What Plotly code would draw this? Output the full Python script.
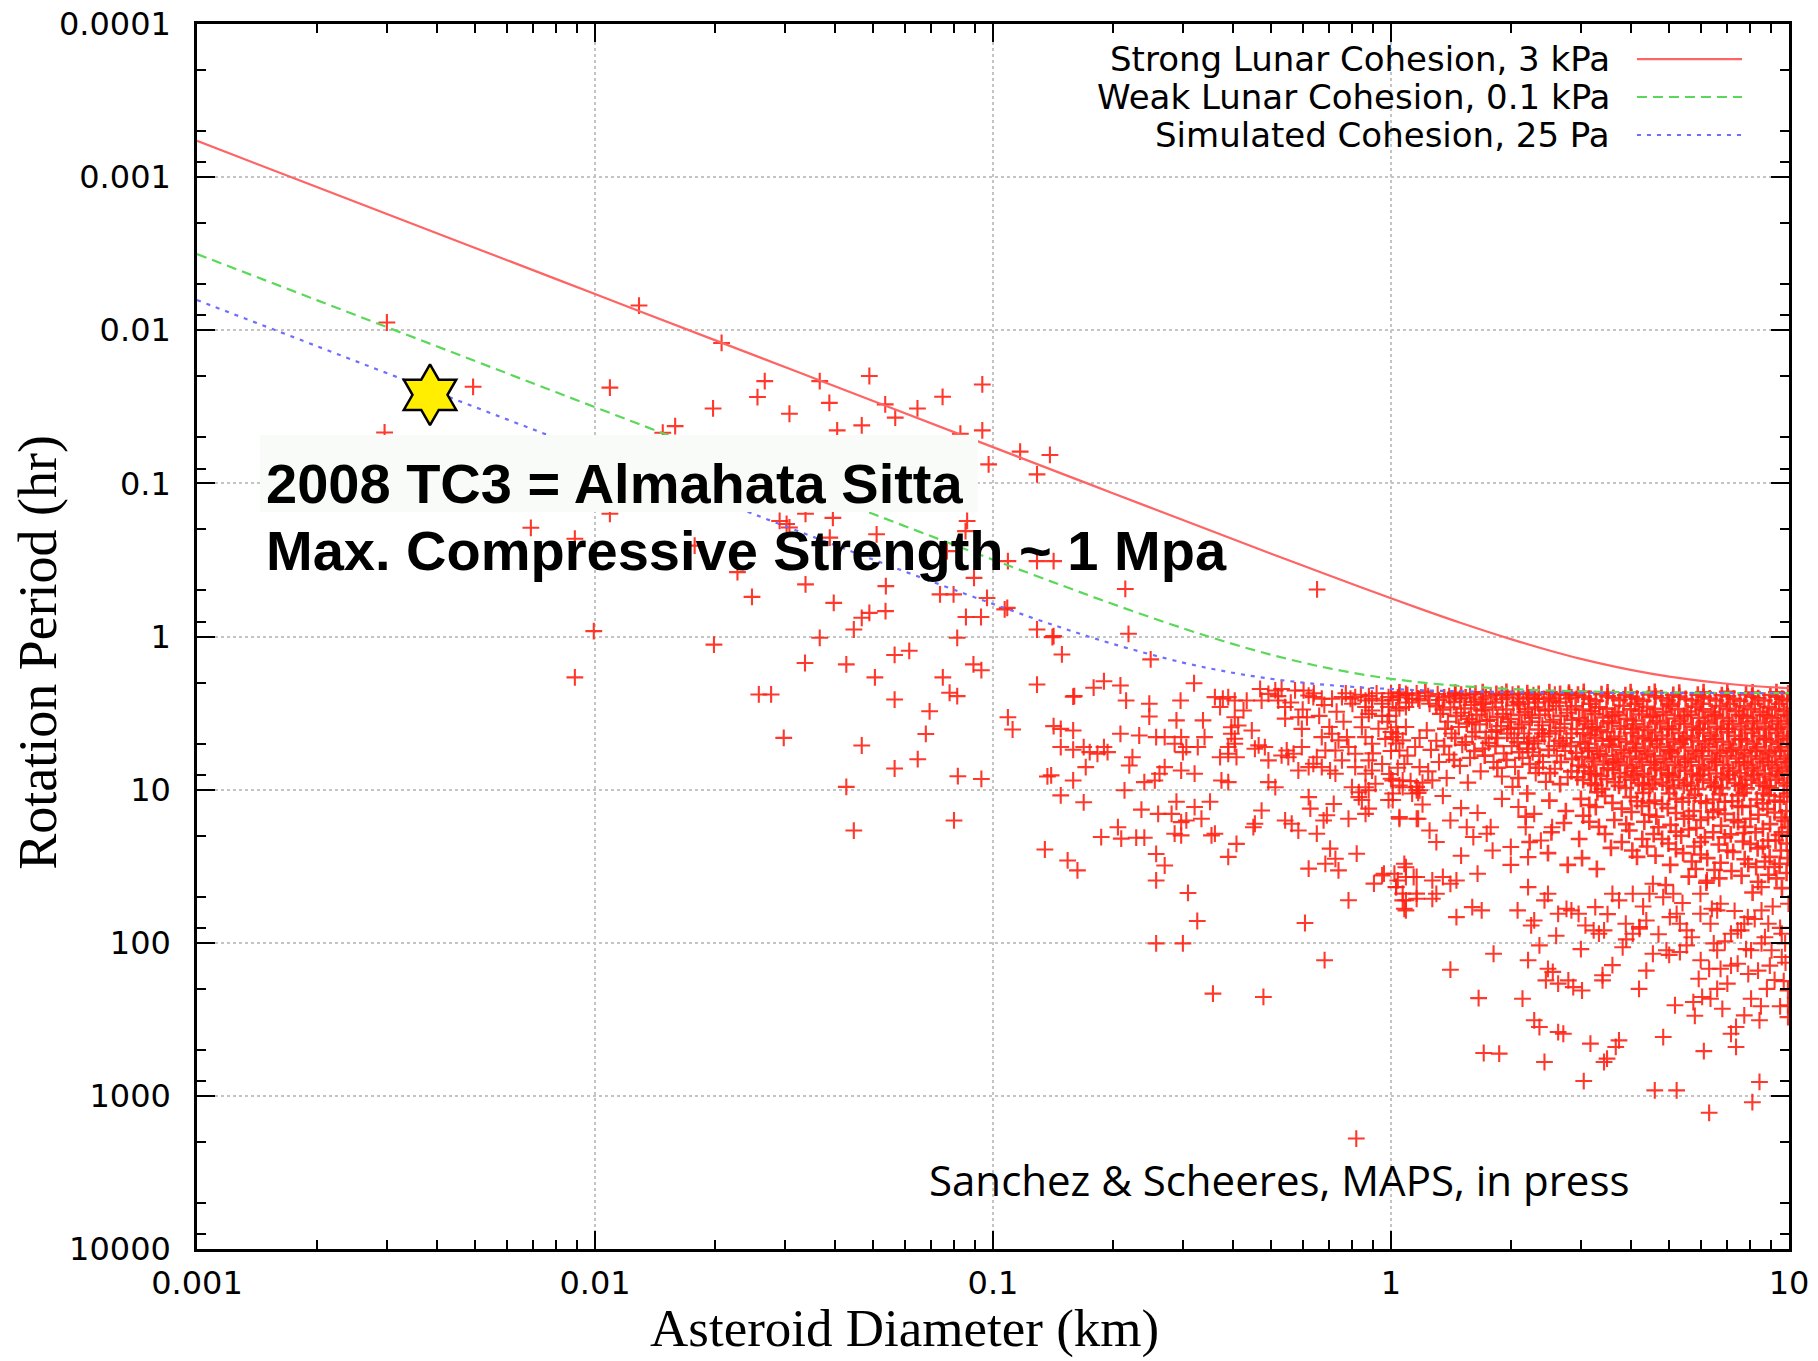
import plotly.graph_objects as go

# ---------------- model spin-limit curves (rotation period vs diameter) ----------------
curve_diam_km = [0.001, 0.002, 0.005, 0.01, 0.02, 0.05, 0.1, 0.15, 0.2, 0.3, 0.4, 0.5,
                 0.6, 0.7, 0.85, 1.0, 1.2, 1.5, 2.0, 2.5, 3.0, 4.0, 5.0, 7.0, 10.0]
strong_lunar_hr = [0.00058, 0.00116, 0.0029, 0.0058, 0.0116, 0.029, 0.058, 0.087, 0.1159,
                   0.1736, 0.2309, 0.288, 0.3443, 0.400, 0.4826, 0.563, 0.6675, 0.816,
                   1.040, 1.234, 1.399, 1.651, 1.826, 2.034, 2.178]
weak_lunar_hr = [0.00318, 0.00636, 0.0159, 0.0318, 0.0635, 0.1585, 0.315, 0.4672, 0.614,
                 0.884, 1.118, 1.316, 1.480, 1.615, 1.773, 1.889, 2.000, 2.108, 2.204,
                 2.253, 2.282, 2.311, 2.325, 2.337, 2.343]
simulated_hr = [0.00635, 0.0127, 0.0318, 0.0635, 0.1269, 0.3148, 0.613, 0.8831, 1.118,
                1.480, 1.725, 1.889, 2.000, 2.078, 2.155, 2.204, 2.246, 2.281, 2.311,
                2.324, 2.332, 2.340, 2.343, 2.346, 2.348]

# ---------------- observed asteroids: (diameter km, rotation period hr) ----------------
small_fast = [
    (0.0030, 0.0089), (0.0129, 0.0069), (0.0208, 0.0121), (0.00494, 0.0234), (0.0109, 0.0237),
    (0.0267, 0.0215), (0.0256, 0.0273), (0.0198, 0.0324), (0.0308, 0.0351), (0.0159, 0.0423),
    (0.0148, 0.0467), (0.00296, 0.0465), (0.0367, 0.0215), (0.0489, 0.0199), (0.0388, 0.0298),
    (0.0536, 0.0305), (0.0568, 0.0372), (0.0646, 0.0324), (0.0747, 0.0272), (0.094, 0.0226),
    (0.0406, 0.0451), (0.0468, 0.0418), (0.094, 0.0451), (0.0828, 0.0474), (0.117, 0.0620),
    (0.139, 0.0652), (0.0975, 0.0752), (0.129, 0.0874),
    (0.0109, 0.158), (0.0291, 0.176), (0.0303, 0.184), (0.0338, 0.158), (0.0396, 0.168),
    (0.051, 0.215), (0.0389, 0.226), (0.0861, 0.176), (0.0853, 0.205), (0.0766, 0.277),
    (0.0896, 0.414), (0.0736, 0.531), (0.0796, 0.531), (0.0966, 0.56), (0.1086, 0.65),
    (0.129, 0.322), (0.142, 0.322), (0.109, 0.322), (0.129, 0.90), (0.142, 0.995),
    (0.149, 1.31), (0.160, 2.45), (0.179, 2.16), (0.190, 1.96), (0.142, 3.85),
    (0.0538, 0.469), (0.0338, 0.457), (0.0248, 0.551), (0.0069, 0.195), (0.0089, 0.230),
    (0.0228, 0.380), (0.0178, 0.255), (0.0308, 0.194),
    (0.00993, 0.922), (0.0089, 1.85), (0.0199, 1.13), (0.0367, 1.02), (0.0398, 0.603),
    (0.0337, 1.49), (0.0428, 1.52), (0.0447, 0.90), (0.0468, 0.755), (0.0489, 0.701),
    (0.0537, 0.683), (0.0566, 1.32), (0.0616, 1.24), (0.0505, 1.85), (0.0258, 2.39),
    (0.0277, 2.39), (0.0298, 4.59), (0.0468, 5.15), (0.0566, 2.58), (0.0693, 3.08),
    (0.0678, 4.33), (0.0647, 6.33), (0.0566, 7.28), (0.0428, 9.6), (0.0447, 18.5),
    (0.0798, 15.9), (0.0748, 1.85), (0.0778, 2.33), (0.0813, 2.45), (0.0813, 1.02),
    (0.0855, 0.746), (0.0933, 0.746), (0.0893, 1.52), (0.0935, 1.66), (0.0816, 8.17),
    (0.0935, 8.52), (0.107, 0.665), (0.129, 2.06), (0.109, 3.37), (0.112, 4.05),
    (0.135, 24.6), (0.137, 8.2),
]

transition = [
    (0.141, 1.01), (0.219, 0.96), (0.249, 1.41), (0.215, 0.489), (0.652, 0.493),
    (0.159, 2.47), (0.209, 2.09), (0.216, 2.62), (0.320, 2.02), (0.247, 2.75),
    (0.296, 2.62), (0.247, 3.33), (0.148, 4.01), (0.159, 4.11), (0.148, 5.27),
    (0.159, 5.49), (0.169, 5.27), (0.175, 5.69), (0.183, 5.83), (0.194, 5.69),
    (0.190, 5.27), (0.140, 8.07), (0.159, 8.71), (0.171, 7.13), (0.148, 10.9),
    (0.169, 12.1), (0.209, 4.32), (0.224, 6.14), (0.220, 6.95), (0.214, 10.1),
    (0.154, 29.0), (0.163, 33.7), (0.187, 20.4), (0.206, 17.6), (0.210, 20.9),
    (0.229, 20.6), (0.240, 20.6), (0.236, 13.5), (0.260, 14.4), (0.233, 4.43),
    (0.257, 4.54), (0.270, 4.54), (0.286, 5.02), (0.297, 4.54), (0.306, 5.27),
    (0.300, 5.69), (0.337, 3.53), (0.340, 4.54), (0.327, 5.27), (0.289, 3.53),
    (0.240, 8.93), (0.255, 8.71), (0.262, 7.87), (0.270, 7.13), (0.297, 7.50),
    (0.321, 7.87), (0.289, 12.0), (0.281, 14.4), (0.297, 16.3), (0.306, 15.9),
    (0.286, 19.4), (0.297, 19.9), (0.321, 13.0), (0.334, 15.5), (0.351, 12.0),
    (0.354, 19.9), (0.361, 19.4), (0.409, 22.6), (0.390, 27.5), (0.257, 26.3),
    (0.270, 31.3), (0.257, 39.2), (0.309, 47.3), (0.326, 72.1), (0.257, 101),
    (0.300, 101), (0.357, 215), (0.478, 226), (0.372, 6.14), (0.390, 5.83),
    (0.409, 6.14), (0.390, 5.27), (0.405, 4.65), (0.375, 8.71), (0.390, 8.93),
    (0.361, 2.49), (0.378, 2.55), (0.390, 2.49), (0.405, 2.62), (0.426, 3.04),
    (0.434, 2.62), (0.372, 2.89), (0.405, 3.37), (0.397, 3.91), (0.413, 3.81),
    (0.397, 4.32), (0.405, 5.02), (0.447, 4.11), (0.465, 5.14), (0.482, 5.27),
    (0.492, 6.44), (0.455, 5.41), (0.469, 2.20), (0.473, 2.62), (0.492, 2.37),
    (0.512, 2.25), (0.531, 2.20), (0.521, 2.62), (0.542, 2.89), (0.542, 3.44),
    (0.585, 3.37), (0.615, 3.37), (0.597, 4.01),
    (0.574, 2.25), (0.603, 2.25), (0.621, 2.43), (0.638, 2.49), (0.670, 2.55),
    (0.711, 2.55), (0.753, 2.49), (0.791, 2.55), (0.813, 2.49), (0.863, 2.62),
    (0.896, 2.55), (0.950, 2.62), (0.986, 2.49), (1.05, 2.43), (1.09, 2.37),
    (1.13, 2.55), (1.18, 2.62),
    (0.863, 2.89), (0.879, 3.20), (0.845, 3.37), (0.896, 3.04), (0.950, 2.75),
    (0.986, 2.89), (1.03, 3.04), (1.09, 2.89),
    (0.845, 3.91), (0.863, 4.54), (0.896, 5.02), (0.968, 4.66), (1.01, 4.54),
    (1.04, 4.32), (1.07, 4.77), (1.03, 3.91), (1.05, 5.55), (1.15, 5.27), (1.18, 7.13),
    (0.670, 4.54), (0.711, 4.32), (0.738, 4.77), (0.775, 4.54), (0.782, 5.27),
    (0.813, 5.83), (0.725, 5.55), (0.684, 5.55), (0.651, 6.14), (0.638, 6.78),
    (0.670, 7.13), (0.703, 7.50), (0.725, 7.87), (0.753, 6.44), (0.813, 7.13),
    (0.863, 7.87), (0.879, 6.44), (0.896, 7.50),
    (0.585, 7.50), (0.621, 7.13), (0.597, 5.27), (0.569, 5.83), (0.547, 5.55),
    (0.552, 6.14), (0.531, 5.98), (0.492, 8.93), (0.512, 9.64),
    (0.798, 9.64), (0.830, 10.4), (0.830, 11.2), (0.863, 9.64), (0.879, 10.1),
    (0.845, 11.7), (0.914, 9.16), (1.01, 8.71), (1.05, 9.40), (0.986, 11.7),
    (1.01, 10.6), (1.07, 9.64), (1.18, 10.1),
    (0.621, 11.2), (0.627, 13.3), (0.690, 14.7), (0.677, 15.9), (0.718, 12.4),
    (0.651, 19.4), (0.585, 18.5), (0.542, 15.9), (0.563, 16.7), (0.782, 15.5),
    (0.879, 13.3), (0.863, 14.4), (0.455, 16.7), (0.473, 13.7), (0.451, 17.6),
    (0.703, 24.3), (0.684, 30.5), (0.725, 28.3), (0.738, 33.7), (0.621, 32.8),
    (0.820, 26.2), (0.782, 52.8), (0.608, 74.3), (0.681, 130),
    (0.906, 41.1), (0.950, 36.3), (1.02, 35.4), (1.04, 39.2), (1.08, 30.5),
    (1.09, 37.2), (1.14, 37.2), (1.03, 43.2), (1.07, 47.8), (1.09, 52.8),
    (1.08, 60.0), (1.16, 47.8), (1.05, 15.5), (1.16, 15.5), (1.16, 10.1),
    (0.818, 1900),
    (0.52, 2.45), (0.56, 2.7), (0.60, 3.0), (0.64, 2.35), (0.68, 2.8), (0.73, 3.1),
    (0.77, 2.35), (0.80, 2.75), (0.84, 2.4), (0.88, 2.45), (0.92, 2.35), (0.95, 3.3),
    (0.98, 3.6), (0.93, 4.0), (0.76, 3.6), (0.70, 3.9), (0.66, 3.3), (0.90, 5.8),
    (0.95, 6.8), (1.0, 8.5),
]

barrier_row = [
    (1.05, 2.32), (1.22, 2.30), (1.45, 2.33), (1.70, 2.31), (1.95, 2.30), (2.20, 2.34),
    (2.50, 2.31), (2.80, 2.33), (3.05, 2.30), (3.50, 2.32), (4.00, 2.31), (4.60, 2.30),
    (5.30, 2.33), (6.10, 2.31), (7.00, 2.30), (8.10, 2.32), (9.30, 2.31), (9.95, 2.35),
]

left_core = [
    (1.0, 2.35), (1.01, 2.6), (0.99, 3.3), (1.0, 4.2),
    (1.04, 2.5), (1.05, 2.95), (1.03, 5.0), (1.04, 7.2),
    (1.1, 2.42), (1.11, 2.7), (1.09, 3.9), (1.1, 6.0), (1.12, 8.8),
    (1.17, 2.55), (1.16, 2.35), (1.18, 4.6), (1.17, 10.5),
    (1.24, 2.45), (1.25, 2.75), (1.23, 4.1), (1.26, 5.5), (1.24, 7.6),
    (1.32, 2.6), (1.31, 2.38), (1.33, 3.2), (1.3, 4.8), (1.32, 6.6),
    (1.4, 2.45), (1.41, 2.9), (1.39, 3.6), (1.42, 4.3), (1.4, 5.9), (1.38, 8.4),
    (1.49, 2.55), (1.5, 3.15), (1.48, 3.9), (1.51, 5.1), (1.49, 7.0),
    (1.58, 2.4), (1.59, 2.8), (1.57, 3.45), (1.6, 4.5), (1.58, 6.2), (1.56, 9.0),
    (1.68, 2.58), (1.69, 3.05), (1.67, 3.75), (1.7, 5.4), (1.68, 7.6),
    (1.78, 2.43), (1.8, 2.9), (1.77, 3.5), (1.79, 4.2), (1.76, 4.95), (1.81, 6.6),
    (1.9, 2.57), (1.91, 3.2), (1.89, 3.85), (1.92, 5.8), (1.9, 8.2),
    (2.02, 2.4), (2.03, 2.82), (2.0, 3.45), (2.04, 4.6), (2.01, 5.2), (2.05, 7.1), (2.02, 9.6),
    (2.15, 2.55), (2.17, 3.12), (2.13, 3.75), (2.16, 4.3), (2.14, 6.2),
    (2.28, 2.42), (2.3, 2.9), (2.26, 3.4), (2.29, 5.0), (2.27, 5.7), (2.31, 7.8),
    (2.42, 2.56), (2.44, 3.05), (2.4, 3.8), (2.43, 4.5), (2.41, 6.6), (2.45, 8.9),
    (2.58, 2.4), (2.6, 2.85), (2.56, 3.5), (2.59, 4.15), (2.57, 5.2), (2.61, 6.0), (2.58, 7.3),
    (2.75, 2.55), (2.77, 3.15), (2.73, 3.72), (2.76, 4.6), (2.74, 5.6), (2.78, 8.3),
    (1.05, 15.1), (1.17, 15.5), (1.41, 15.9), (1.55, 17.6), (1.61, 20.4), (1.74, 19.4),
    (1.78, 17.6), (0.96, 35.4), (1.09, 32.1), (1.16, 37.2), (1.27, 39.2), (1.35, 37.2),
    (1.46, 39.2), (1.65, 35.4), (0.99, 7.9), (1.07, 8.7), (1.16, 9.6), (1.27, 8.7),
    (1.01, 11.7), (1.13, 10.6), (2.09, 13.0), (2.18, 17.6), (2.29, 14.4), (2.38, 21.5),
    (2.0, 23.7), (2.21, 27.6), (2.54, 17.6), (1.0, 5.6), (1.08, 6.8), (1.2, 9.0),
    (1.2, 12.5), (1.35, 11.0), (1.5, 13.2), (1.9, 11.5), (1.65, 14.2), (1.3, 22.0),
    (1.5, 27.0), (1.8, 25.0), (2.0, 31.0), (1.25, 18.5),
]

left_fill = [
    (1.36, 2.5), (1.35, 3.0), (1.37, 4.0), (1.36, 5.2),
    (1.45, 2.38), (1.44, 2.68), (1.46, 3.3), (1.45, 4.6), (1.44, 6.4),
    (1.54, 2.5), (1.53, 2.95), (1.55, 3.7), (1.54, 4.9),
    (1.63, 2.36), (1.62, 2.68), (1.64, 3.25), (1.63, 4.2), (1.62, 5.6),
    (1.73, 2.5), (1.72, 3.0), (1.74, 3.55), (1.73, 4.6), (1.72, 6.0),
    (1.84, 2.37), (1.83, 2.7), (1.85, 3.35), (1.84, 4.1), (1.83, 5.2), (1.85, 7.2),
    (1.96, 2.5), (1.95, 3.0), (1.97, 3.62), (1.96, 4.3), (1.95, 6.4),
    (2.09, 2.37), (2.08, 2.68), (2.1, 3.25), (2.09, 3.95), (2.08, 4.9), (2.1, 5.7), (2.09, 8.4),
    (2.22, 2.5), (2.21, 2.98), (2.23, 3.6), (2.22, 4.6), (2.21, 5.4), (2.23, 6.8),
    (2.35, 2.37), (2.34, 2.7), (2.36, 3.25), (2.35, 4.05), (2.34, 4.8), (2.36, 6.0), (2.35, 7.2),
    (2.5, 2.5), (2.49, 3.0), (2.51, 3.62), (2.5, 4.3), (2.49, 5.5), (2.51, 7.8),
    (2.66, 2.37), (2.65, 2.7), (2.67, 3.3), (2.66, 3.95), (2.65, 4.8), (2.67, 6.6), (2.66, 9.2),
    (2.84, 2.5), (2.83, 3.0), (2.85, 3.5), (2.84, 4.3), (2.83, 5.2), (2.85, 6.3), (2.84, 7.6),
    (1.3, 2.85), (1.5, 2.4), (1.7, 2.75), (1.9, 2.4), (2.1, 2.75), (2.3, 2.55), (2.55, 2.65),
    (2.8, 2.4), (1.6, 3.6), (2.0, 4.0), (2.4, 4.3), (2.7, 5.0), (2.2, 5.0), (1.85, 4.6),
]

dense_core = [
    (2.95, 2.40), (2.91, 2.86), (2.97, 3.42), (2.93, 4.02), (2.99, 4.9), (2.92, 5.75), (2.96, 6.95), (2.94, 8.3),
    (3.15, 2.56), (3.19, 3.08), (3.12, 3.72), (3.17, 4.42), (3.13, 5.35), (3.2, 6.25), (3.14, 7.6), (3.18, 9.1),
    (3.38, 2.38), (3.34, 2.9), (3.41, 3.38), (3.36, 4.1), (3.4, 4.8), (3.35, 5.85), (3.42, 6.85), (3.37, 8.15), (3.39, 9.9),
    (3.62, 2.52), (3.66, 3.12), (3.59, 3.68), (3.64, 4.5), (3.6, 5.25), (3.67, 6.35), (3.61, 7.45), (3.65, 8.95),
    (3.88, 2.42), (3.84, 2.83), (3.91, 3.45), (3.86, 4.0), (3.9, 4.88), (3.85, 5.78), (3.92, 6.92), (3.87, 8.25), (3.89, 9.75),
    (4.15, 2.55), (4.2, 3.06), (4.12, 3.74), (4.18, 4.46), (4.13, 5.32), (4.21, 6.28), (4.14, 7.55), (4.19, 9.05),
    (4.45, 2.39), (4.4, 2.88), (4.48, 3.36), (4.42, 4.07), (4.47, 4.83), (4.41, 5.82), (4.49, 6.88), (4.43, 8.2), (4.46, 9.85),
    (4.78, 2.53), (4.83, 3.11), (4.74, 3.7), (4.8, 4.43), (4.75, 5.28), (4.84, 6.32), (4.76, 7.48), (4.81, 8.98),
    (5.12, 2.41), (5.07, 2.84), (5.16, 3.43), (5.09, 4.04), (5.15, 4.86), (5.08, 5.79), (5.17, 6.9), (5.1, 8.22), (5.14, 9.8),
    (5.5, 2.56), (5.56, 3.09), (5.46, 3.71), (5.53, 4.47), (5.47, 5.31), (5.57, 6.27), (5.48, 7.52), (5.54, 9.02),
    (5.9, 2.4), (5.84, 2.87), (5.94, 3.39), (5.86, 4.06), (5.93, 4.84), (5.85, 5.81), (5.95, 6.94), (5.88, 8.18), (5.92, 9.9),
    (6.32, 2.54), (6.39, 3.1), (6.27, 3.69), (6.35, 4.44), (6.28, 5.29), (6.4, 6.33), (6.29, 7.46), (6.36, 9.0),
    (6.78, 2.42), (6.71, 2.85), (6.83, 3.41), (6.74, 4.03), (6.82, 4.87), (6.72, 5.77), (6.84, 6.91), (6.76, 8.24), (6.8, 9.78),
    (7.27, 2.55), (7.35, 3.07), (7.21, 3.73), (7.31, 4.45), (7.22, 5.33), (7.36, 6.26), (7.24, 7.54), (7.32, 9.06),
    (7.8, 2.39), (7.72, 2.86), (7.86, 3.4), (7.75, 4.05), (7.84, 4.85), (7.73, 5.8), (7.87, 6.89), (7.77, 8.21), (7.82, 9.82),
    (8.37, 2.53), (8.46, 3.1), (8.3, 3.7), (8.42, 4.46), (8.31, 5.3), (8.47, 6.3), (8.33, 7.5), (8.43, 9.0),
    (8.98, 2.41), (8.89, 2.88), (9.05, 3.42), (8.92, 4.04), (9.03, 4.86), (8.9, 5.8), (9.06, 6.92), (8.94, 8.2), (9.0, 9.8),
    (9.62, 2.55), (9.72, 3.08), (9.55, 3.71), (9.68, 4.45), (9.56, 5.3), (9.74, 6.29), (9.58, 7.52), (9.7, 9.03),
]

dense_fill = [
    (3.05, 2.47), (3.03, 3.0), (3.07, 3.55), (3.04, 4.28), (3.08, 5.02), (3.02, 6.1), (3.06, 7.15), (3.04, 8.65),
    (3.27, 2.63), (3.25, 3.22), (3.29, 3.9), (3.26, 4.62), (3.3, 5.58), (3.24, 6.55), (3.28, 7.9), (3.26, 9.35),
    (3.5, 2.46), (3.48, 2.96), (3.52, 3.58), (3.49, 4.22), (3.53, 5.08), (3.47, 6.02), (3.51, 7.25), (3.49, 8.55),
    (3.75, 2.61), (3.73, 3.26), (3.77, 3.86), (3.74, 4.68), (3.78, 5.52), (3.72, 6.64), (3.76, 7.8), (3.74, 9.45),
    (4.02, 2.48), (4.0, 2.99), (4.05, 3.54), (4.01, 4.27), (4.06, 5.04), (3.99, 6.08), (4.04, 7.18), (4.01, 8.62),
    (4.3, 2.63), (4.28, 3.23), (4.33, 3.89), (4.29, 4.63), (4.34, 5.57), (4.27, 6.57), (4.32, 7.88), (4.29, 9.38),
    (4.62, 2.46), (4.6, 2.97), (4.65, 3.57), (4.61, 4.24), (4.66, 5.06), (4.59, 6.04), (4.64, 7.22), (4.61, 8.58),
    (4.95, 2.62), (4.92, 3.25), (4.98, 3.87), (4.94, 4.66), (4.99, 5.54), (4.91, 6.62), (4.97, 7.83), (4.93, 9.42),
    (5.3, 2.47), (5.27, 2.98), (5.33, 3.56), (5.29, 4.26), (5.34, 5.03), (5.26, 6.07), (5.32, 7.17), (5.28, 8.63),
    (5.7, 2.62), (5.67, 3.24), (5.73, 3.88), (5.69, 4.64), (5.74, 5.56), (5.66, 6.58), (5.72, 7.86), (5.68, 9.4),
    (6.1, 2.47), (6.07, 2.99), (6.14, 3.55), (6.09, 4.25), (6.15, 5.05), (6.06, 6.05), (6.12, 7.2), (6.08, 8.6),
    (6.55, 2.62), (6.51, 3.23), (6.59, 3.89), (6.54, 4.65), (6.6, 5.55), (6.5, 6.6), (6.57, 7.85), (6.53, 9.4),
    (7.02, 2.46), (6.98, 2.97), (7.06, 3.57), (7.0, 4.23), (7.07, 5.07), (6.97, 6.03), (7.04, 7.23), (6.99, 8.57),
    (7.53, 2.63), (7.49, 3.25), (7.58, 3.87), (7.51, 4.67), (7.59, 5.53), (7.48, 6.63), (7.55, 7.82), (7.5, 9.43),
    (8.08, 2.47), (8.03, 2.98), (8.13, 3.56), (8.06, 4.26), (8.14, 5.04), (8.02, 6.06), (8.1, 7.19), (8.05, 8.61),
    (8.67, 2.62), (8.62, 3.24), (8.72, 3.88), (8.65, 4.64), (8.73, 5.56), (8.6, 6.59), (8.69, 7.86), (8.63, 9.39),
    (9.3, 2.47), (9.24, 2.98), (9.36, 3.56), (9.27, 4.26), (9.37, 5.04), (9.23, 6.06), (9.33, 7.19), (9.26, 8.61),
    (9.9, 2.62), (9.86, 3.24), (9.94, 3.88), (9.88, 4.64), (9.95, 5.56), (9.85, 6.59), (9.92, 7.86), (9.87, 9.39),
]

dense_extra = [
    (3.16, 2.75), (3.2, 3.95), (3.14, 5.6), (3.18, 7.9),
    (3.6, 3.3), (3.56, 4.7), (3.62, 6.6),
    (4.1, 2.75), (4.06, 4.0), (4.12, 5.6), (4.08, 8.0),
    (4.55, 3.3), (4.52, 4.7), (4.58, 6.6), (4.54, 9.2),
    (5.0, 2.75), (4.97, 4.0), (5.03, 5.6), (4.99, 8.0),
    (5.45, 3.3), (5.42, 4.7), (5.48, 6.6), (5.44, 9.4),
    (6.0, 2.75), (5.96, 4.0), (6.04, 5.6), (5.98, 8.0),
    (6.5, 3.3), (6.46, 4.7), (6.54, 6.6), (6.48, 9.6),
    (7.1, 2.75), (7.05, 4.0), (7.14, 5.6), (7.08, 8.0),
    (7.65, 3.3), (7.6, 4.7), (7.7, 6.6), (7.62, 9.3),
    (8.2, 2.75), (8.15, 4.0), (8.25, 5.6), (8.18, 8.0),
    (8.8, 3.3), (8.74, 4.7), (8.86, 6.6), (8.78, 9.5),
    (9.45, 2.75), (9.4, 4.0), (9.5, 5.6), (9.42, 8.0),
    (9.95, 3.3), (9.92, 4.7), (9.97, 6.6),
]

mid_band = [
    (4.0, 11.2), (4.02, 14.0), (3.97, 18.5), (4.04, 25.0),
    (4.3, 10.5), (4.27, 12.8), (4.33, 16.2), (4.28, 21.0),
    (4.6, 11.8), (4.64, 15.0), (4.57, 19.5), (4.62, 27.0),
    (5.0, 10.6), (4.96, 13.2), (5.04, 17.0), (4.98, 22.5), (5.03, 31.0),
    (5.4, 12.0), (5.45, 15.5), (5.36, 20.0), (5.42, 26.0),
    (5.8, 10.8), (5.76, 13.8), (5.85, 17.8), (5.78, 23.5), (5.83, 33.0),
    (6.2, 12.2), (6.26, 15.2), (6.15, 20.5), (6.23, 28.0),
    (6.7, 10.7), (6.64, 13.5), (6.75, 17.2), (6.66, 22.8), (6.73, 30.0), (6.68, 38.0),
    (7.2, 11.9), (7.27, 15.8), (7.14, 19.6), (7.24, 25.5), (7.17, 34.0),
    (7.7, 10.5), (7.63, 13.0), (7.76, 17.5), (7.66, 21.8), (7.74, 28.5),
    (8.3, 11.6), (8.38, 14.6), (8.24, 19.0), (8.34, 24.2), (8.27, 32.0), (8.36, 40.0),
    (8.9, 10.9), (8.83, 13.4), (8.96, 16.8), (8.86, 21.5), (8.94, 27.5), (8.88, 36.0),
    (9.5, 12.0), (9.58, 15.2), (9.44, 19.8), (9.54, 25.0), (9.47, 30.5),
    (9.9, 10.6), (9.85, 13.8), (9.93, 17.6), (9.87, 22.5), (9.92, 28.0), (9.86, 35.0),
    (3.0, 11.5), (3.04, 14.8), (2.97, 21.0), (3.02, 28.0),
    (3.3, 10.4), (3.27, 13.0), (3.33, 17.5), (3.29, 33.0),
    (3.6, 12.2), (3.64, 15.8), (3.57, 24.0),
    (2.5, 11.8), (2.53, 19.0), (2.48, 26.0),
    (2.75, 13.8), (2.72, 16.5), (2.78, 31.0),
    (2.2, 10.6), (2.18, 15.0), (2.23, 22.0),
    (3.15, 12.6), (3.45, 11.0), (3.8, 13.3), (4.15, 11.9), (4.45, 14.6), (4.8, 12.4),
    (5.2, 14.2), (5.6, 11.3), (6.0, 15.8), (6.45, 11.6), (6.9, 14.4), (7.45, 12.8),
    (8.0, 15.5), (8.6, 12.3), (9.2, 14.1), (9.7, 11.1), (3.9, 16.8), (4.7, 17.6),
    (5.6, 18.2), (6.45, 19.0), (7.45, 16.3), (8.6, 18.0), (9.25, 21.5), (5.2, 24.5),
    (6.0, 26.5), (7.0, 25.0), (8.0, 22.6), (9.2, 32.0), (7.6, 36.5), (6.2, 40.5),
    (5.6, 37.0), (4.9, 42.0), (9.6, 44.0), (8.1, 47.0),
    (3.15, 16.2), (3.45, 19.5), (3.8, 22.0), (4.15, 27.5), (4.45, 12.2), (4.8, 21.0),
    (5.2, 11.5), (5.6, 14.8), (6.0, 11.9), (6.45, 14.0), (6.9, 12.0), (7.45, 10.9),
    (8.0, 12.8), (8.6, 10.6), (9.2, 11.8), (9.75, 16.0), (5.2, 18.8), (6.0, 22.0),
    (6.9, 20.5), (7.7, 19.2), (8.6, 23.5), (9.6, 19.0), (4.4, 23.5), (5.7, 29.5),
    (6.5, 33.5), (7.9, 30.5), (8.7, 29.5), (9.3, 38.0),
]

slow_tail = [
    (1.09, 61.5), (1.07, 52.9), (1.16, 51.6), (1.27, 51.6), (1.30, 47.9), (1.03, 43.3),
    (1.46, 68.0), (1.60, 58.5), (1.69, 61.5), (1.41, 41.2),
    (2.08, 61.5), (2.21, 43.3), (2.29, 71.5), (2.25, 77.1), (2.48, 47.9), (2.43, 52.9),
    (2.63, 64.7), (2.76, 60.0), (2.84, 61.5), (2.96, 64.7), (3.08, 77.1), (3.23, 83.0),
    (3.33, 87.3), (3.43, 83.0), (3.26, 58.5), (3.60, 47.9), (3.74, 52.9), (3.89, 75.1),
    (4.05, 47.9), (4.21, 81.1), (4.38, 71.5), (4.46, 47.9), (4.55, 41.2), (4.83, 50.4),
    (5.12, 47.9), (5.22, 64.7), (5.02, 68.0), (5.32, 75.1), (5.53, 83.0), (5.99, 64.7),
    (6.35, 75.1), (6.60, 61.5), (6.73, 55.6), (5.99, 47.9), (7.43, 83.0), (7.72, 75.1),
    (7.88, 68.0), (8.53, 61.5), (8.87, 75.1), (9.59, 87.3), (9.97, 55.6), (7.15, 87.3),
    (8.53, 43.3), (6.22, 39.2),
    (1.81, 118), (1.41, 150), (1.66, 230), (2.14, 232), (2.21, 130), (2.36, 104),
    (2.48, 148), (2.55, 155), (2.45, 176), (2.63, 185), (2.79, 176), (2.87, 195),
    (3.02, 205), (3.40, 163), (3.40, 176), (2.29, 321), (2.36, 355), (2.63, 383),
    (2.71, 393), (3.17, 456), (3.74, 434), (3.67, 479), (3.49, 571), (3.43, 601),
    (1.71, 525), (1.87, 530), (2.43, 601), (3.05, 800), (4.60, 920), (5.22, 920),
    (4.83, 413), (6.11, 510), (6.30, 1290), (7.36, 479), (7.15, 393), (7.36, 355),
    (7.72, 298), (8.03, 232), (8.43, 321), (8.43, 811), (8.09, 1100), (5.17, 256),
    (5.75, 244), (6.05, 226), (6.35, 232), (5.93, 172), (6.30, 148), (6.73, 148),
    (7.15, 141), (7.43, 137), (8.36, 152), (8.95, 141), (4.38, 152), (4.55, 118),
    (4.92, 112), (5.32, 115), (5.53, 104), (6.47, 101), (6.60, 112), (7.58, 83.0),
    (8.03, 112), (8.53, 101), (9.04, 112), (9.59, 124), (9.78, 101), (9.94, 205),
    (9.94, 256), (9.94, 306), (3.82, 107), (4.05, 87.3), (4.21, 79.0), (9.7, 178),
    (9.5, 260),
    (3.5, 65), (3.9, 95), (4.3, 58), (4.7, 88), (5.0, 120), (5.4, 55), (5.7, 92),
    (6.0, 130), (6.4, 60), (6.9, 98), (7.3, 62), (7.8, 110), (8.2, 70), (8.7, 92),
    (9.1, 58), (9.5, 80), (9.8, 135), (9.2, 175), (8.8, 200), (7.9, 160), (7.0, 185),
    (6.6, 200), (5.8, 300), (6.8, 270), (8.5, 260), (4.2, 200), (3.6, 140), (3.0, 110),
    (2.6, 90),
]

# 2008 TC3 (Almahata Sitta)
tc3_diam_km = [0.00385]
tc3_period_hr = [0.0264]

x_tick_vals = [0.001, 0.01, 0.1, 1, 10]
x_tick_text = ["0.001", "0.01", "0.1", "1", "10"]
y_tick_vals = [1e-4, 1e-3, 1e-2, 1e-1, 1, 10, 100, 1000, 10000]
y_tick_text = ["0.0001", "0.001", "0.01", "0.1", "1", "10", "100", "1000", "10000"]

legend_labels = ["Strong Lunar Cohesion, 3 kPa",
                 "Weak Lunar Cohesion, 0.1 kPa",
                 "Simulated Cohesion, 25 Pa"]

# ---------------- figure ----------------
sparse_pts = small_fast + transition + left_core + slow_tail
packed_pts = barrier_row + left_fill + dense_core + dense_fill + dense_extra + mid_band

RED = "rgba(255,34,20,0.9)"
LINE_RED = "#ff6464"
LINE_GREEN = "#5ad85a"
LINE_BLUE = "#6e6eff"

fig = go.Figure()

for pts, lw in ((sparse_pts, 2.1), (packed_pts, 2.6)):
    fig.add_trace(go.Scatter(
        x=[p[0] for p in pts], y=[p[1] for p in pts], mode="markers",
        marker=dict(symbol="cross-thin", size=12, color=RED, line=dict(width=lw, color=RED)),
        showlegend=False, hoverinfo="skip",
    ))

fig.add_trace(go.Scatter(x=curve_diam_km, y=strong_lunar_hr, mode="lines",
                         line=dict(color=LINE_RED, width=2.2, shape="spline"), showlegend=False))
fig.add_trace(go.Scatter(x=curve_diam_km, y=weak_lunar_hr, mode="lines",
                         line=dict(color=LINE_GREEN, width=2.2, dash="10px,6px", shape="spline"),
                         showlegend=False))
fig.add_trace(go.Scatter(x=curve_diam_km, y=simulated_hr, mode="lines",
                         line=dict(color=LINE_BLUE, width=2.2, dash="4px,6px", shape="spline"),
                         showlegend=False))

fig.add_trace(go.Scatter(
    x=tc3_diam_km, y=tc3_period_hr, mode="markers",
    marker=dict(symbol="hexagram", size=46, color="#ffee00", line=dict(width=2.5, color="black")),
    showlegend=False, hoverinfo="skip",
))

x_minor = [m * 10.0 ** e for e in range(-3, 1) for m in range(2, 10)]
y_minor = [m * 10.0 ** e for e in range(-4, 4) for m in (2, 5, 8)]

TICK_FONT = dict(family="DejaVu Sans", size=32, color="black")
axis_common = dict(
    type="log", showline=True, linecolor="black", linewidth=2.5, mirror="ticks",
    ticks="inside", ticklen=18, tickwidth=2, tickcolor="black",
    showgrid=True, gridcolor="#c4c4c4", griddash="dot", gridwidth=1.6,
    zeroline=False, tickfont=TICK_FONT, automargin=False,
)

fig.update_xaxes(
    **axis_common, range=[-3, 1], tickmode="array", tickvals=x_tick_vals, ticktext=x_tick_text,
    ticklabelstandoff=4,
    minor=dict(tickmode="array", tickvals=x_minor, ticks="inside", ticklen=9,
               tickwidth=1.5, tickcolor="black", showgrid=False),
)
fig.update_yaxes(
    **axis_common, range=[4, -4], tickmode="array", tickvals=y_tick_vals, ticktext=y_tick_text,
    ticklabelstandoff=17,
    minor=dict(tickmode="array", tickvals=y_minor, ticks="inside", ticklen=9,
               tickwidth=1.5, tickcolor="black", showgrid=False),
)

shapes = [
    # pale backing panel behind the first annotation line
    dict(type="rect", xref="paper", yref="paper", x0=0.0396, x1=0.4906, y0=0.6016, y1=0.6645,
         fillcolor="#f9fbf9", line=dict(width=0), layer="above"),
]
legend_rows_y = [0.9714, 0.9404, 0.9094]
legend_styles = [dict(color=LINE_RED, width=2.2),
                 dict(color=LINE_GREEN, width=2.2, dash="10px,6px"),
                 dict(color=LINE_BLUE, width=2.2, dash="4px,6px")]
for yy, st in zip(legend_rows_y, legend_styles):
    shapes.append(dict(type="line", xref="paper", yref="paper", x0=0.9045, x1=0.9705,
                       y0=yy, y1=yy, line=st, layer="above"))

annotations = []
for yy, label in zip(legend_rows_y, legend_labels):
    annotations.append(dict(xref="paper", yref="paper", x=0.8888, y=yy, text=label,
                            showarrow=False, xanchor="right", yanchor="middle",
                            font=dict(family="DejaVu Sans", size=34, color="black")))

annotations += [
    dict(xref="paper", yref="paper", x=0.0421, y=0.6253, text="<b>2008 TC3 = Almahata Sitta</b>",
         showarrow=False, xanchor="left", yanchor="middle",
         font=dict(family="Liberation Sans", size=56, color="black")),
    dict(xref="paper", yref="paper", x=0.0421, y=0.5706,
         text="<b>Max. Compressive Strength ~ 1 Mpa</b>",
         showarrow=False, xanchor="left", yanchor="middle",
         font=dict(family="Liberation Sans", size=56, color="black")),
    dict(xref="paper", yref="paper", x=0.4585, y=0.0571, text="Sanchez &amp; Scheeres, MAPS, in press",
         showarrow=False, xanchor="left", yanchor="middle",
         font=dict(family="Open Sans", size=42, color="black")),
    dict(xref="paper", yref="paper", x=0.4441, y=-0.0645, text="Asteroid Diameter (km)",
         showarrow=False, xanchor="center", yanchor="middle",
         font=dict(family="Liberation Serif", size=53, color="black")),
    dict(xref="paper", yref="paper", x=-0.1, y=0.4873, text="Rotation Period (hr)",
         showarrow=False, xanchor="center", yanchor="middle", textangle=-90,
         font=dict(family="Liberation Serif", size=54, color="black")),
]

fig.update_layout(
    width=1818, height=1361,
    margin=dict(l=197, r=29, t=24, b=112),
    paper_bgcolor="white", plot_bgcolor="white",
    showlegend=False,
    shapes=shapes, annotations=annotations,
)

fig.write_html("out.html")
